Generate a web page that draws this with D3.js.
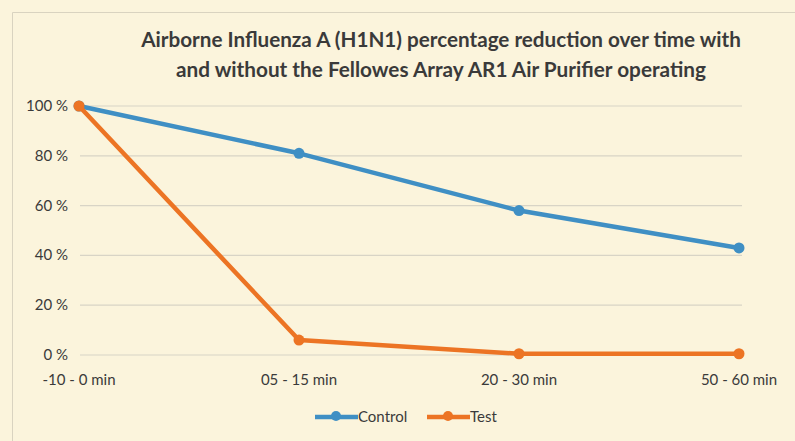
<!DOCTYPE html>
<html><head><meta charset="utf-8">
<script src="https://cdn.jsdelivr.net/npm/d3@7"></script>
<style>body{margin:0;background:#fbf4dc;}svg{display:block;}</style>
</head><body>
<svg id="c" width="795" height="441"></svg>
<script>
const categories = ["-10 - 0 min", "05 - 15 min", "20 - 30 min", "50 - 60 min"];
const controlValues = [100, 81, 58, 43];
const testValues = [100, 6, 0.5, 0.5];
const yTicks = [0, 20, 40, 60, 80, 100];
const titleLines = ["Airborne Influenza A (H1N1) percentage reduction over time with", "and without the Fellowes Array AR1 Air Purifier operating"];
const seriesNames = ["Control", "Test"];
const colors = ["#3f8fc4", "#ec7424"];
const FONT = "Lato, 'Open Sans', sans-serif";

const svg = d3.select("#c");
svg.append("rect").attr("width",795).attr("height",441).attr("fill","#fbf4dc");
svg.append("path").attr("d","M12.5,441 V12.5 H795").attr("fill","none").attr("stroke","#d9d3c0").attr("stroke-width",1);

const x = d3.scalePoint().domain(categories).range([79, 739]);
const y = d3.scaleLinear().domain([0,100]).range([355, 106]);

svg.append("g").selectAll("line").data(yTicks).join("line")
  .attr("x1", 80).attr("x2", 742)
  .attr("y1", d=>y(d)).attr("y2", d=>y(d))
  .attr("stroke","#d8d4c6").attr("stroke-width",1.2);

svg.append("g").selectAll("text").data(yTicks).join("text")
  .attr("x", 68).attr("y", d=>y(d)+5)
  .attr("text-anchor","end").attr("font-family",FONT).attr("font-size",15)
  .attr("fill","#3a3a3a").text(d=>d+" %");

svg.append("g").selectAll("text").data(categories).join("text")
  .attr("x", d=>x(d)).attr("y", 385)
  .attr("text-anchor","middle").attr("font-family",FONT).attr("font-size",15)
  .attr("fill","#3a3a3a").text(d=>d);

const tl = svg.append("g").selectAll("text").data(titleLines).join("text")
  .attr("x", 441).attr("y",(d,i)=>47+i*30)
  .attr("text-anchor","middle").attr("font-family",FONT).attr("font-size",19.5).attr("font-weight",700)
  .attr("fill","#3a3a3a").text(d=>d);
const targetW = [600, 530];
tl.each(function(d,i){ const w=this.getComputedTextLength(); if (w>0) d3.select(this).attr("font-size", 19.5*targetW[i]/w); });

const line = d3.line().x((d,i)=>x(categories[i])).y(d=>y(d));
const series = [controlValues, testValues];
series.forEach((vals, si) => {
  svg.append("path").datum(vals).attr("d", line).attr("fill","none")
    .attr("stroke", colors[si]).attr("stroke-width",4.5).attr("stroke-linejoin","round");
  svg.append("g").selectAll("circle").data(vals).join("circle")
    .attr("cx",(d,i)=>x(categories[i])).attr("cy",d=>y(d)).attr("r",5.5).attr("fill",colors[si]);
});

const legendX = [315, 427];
seriesNames.forEach((n, i) => {
  const g = svg.append("g").attr("transform",`translate(${legendX[i]},417)`);
  g.append("line").attr("x1",0).attr("x2",43).attr("y1",0).attr("y2",0).attr("stroke",colors[i]).attr("stroke-width",4.5);
  g.append("circle").attr("cx",21).attr("cy",-1).attr("r",5).attr("fill",colors[i]);
  g.append("text").attr("x",43).attr("y",5).attr("font-family",FONT).attr("font-size",15).attr("fill","#3a3a3a").text(n);
});
</script>
</body></html>
